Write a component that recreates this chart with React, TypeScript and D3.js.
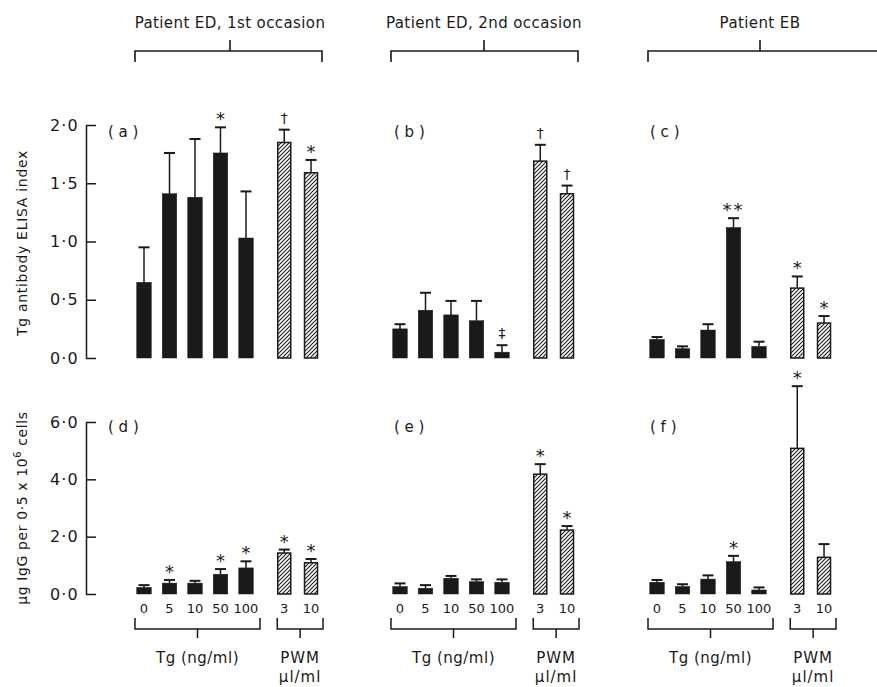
import React, { useEffect, useRef } from 'react';
import * as d3 from 'd3';

// dose labels under the bars
const tgDoses = ['0', '5', '10', '50', '100'];
const pwmDoses = ['3', '10'];
// slot of each bar along a panel (5 Tg doses, then a gap, then 2 PWM doses)
const slots = [0, 1, 2, 3, 4, 5.5, 6.55];

const headers = ['Patient ED, 1st occasion', 'Patient ED, 2nd occasion', 'Patient EB'];
const panelNames = ['a', 'b', 'c', 'd', 'e', 'f'];

// Tg antibody ELISA index (top row): mean, mean + error, marker
const elisaA = [0.65, 1.41, 1.38, 1.76, 1.03, 1.85, 1.59];
const elisaAErr = [0.95, 1.76, 1.88, 1.98, 1.43, 1.96, 1.70];
const elisaAMark = ['', '', '', '*', '', '†', '*'];

const elisaB = [0.25, 0.41, 0.37, 0.32, 0.05, 1.69, 1.41];
const elisaBErr = [0.29, 0.56, 0.49, 0.49, 0.11, 1.83, 1.48];
const elisaBMark = ['', '', '', '', '‡', '†', '†'];

const elisaC = [0.16, 0.08, 0.24, 1.12, 0.10, 0.60, 0.30];
const elisaCErr = [0.18, 0.10, 0.29, 1.20, 0.14, 0.70, 0.36];
const elisaCMark = ['', '', '', '**', '', '*', '*'];

// µg IgG per 0.5 x 10^6 cells (bottom row)
const iggD = [0.23, 0.38, 0.38, 0.69, 0.91, 1.43, 1.09];
const iggDErr = [0.31, 0.49, 0.46, 0.87, 1.14, 1.55, 1.22];
const iggDMark = ['', '*', '', '*', '*', '*', '*'];

const iggE = [0.26, 0.20, 0.55, 0.43, 0.41, 4.18, 2.23];
const iggEErr = [0.37, 0.31, 0.63, 0.51, 0.51, 4.53, 2.37];
const iggEMark = ['', '', '', '', '', '*', '*'];

const iggF = [0.41, 0.26, 0.52, 1.13, 0.14, 5.08, 1.28];
const iggFErr = [0.49, 0.34, 0.65, 1.33, 0.23, 7.25, 1.74];
const iggFMark = ['', '', '', '*', '', '*', ''];

const topTicks = [0, 0.5, 1, 1.5, 2];
const bottomTicks = [0, 2, 4, 6];

const font = "'DejaVu Sans', sans-serif";
const ink = '#1a1a1a';

function Figure() {
  const ref = useRef<SVGSVGElement>(null);

  function drawChart() {
    const svg = d3.select(ref.current);
    svg.selectAll('*').remove();

    svg.append('defs')
      .append('pattern')
      .attr('id', 'hatch')
      .attr('patternUnits', 'userSpaceOnUse')
      .attr('width', 4)
      .attr('height', 4)
      .append('path')
      .attr('d', 'M-1,1 l2,-2 M0,4 l4,-4 M3,5 l2,-2')
      .attr('stroke', ink)
      .attr('stroke-width', 1.1);

    const colX = [144, 400, 657];
    const labelX = [108, 394, 650];
    const headerX = [230, 484, 760];
    const step = 25.5;

    const rows = [
      { y: d3.scaleLinear().domain([0, 2]).range([358, 125]), ticks: topTicks, labelY: 137 },
      { y: d3.scaleLinear().domain([0, 6]).range([594, 422]), ticks: bottomTicks, labelY: 432 },
    ];

    const panels = [
      { vals: elisaA, errs: elisaAErr, marks: elisaAMark },
      { vals: elisaB, errs: elisaBErr, marks: elisaBMark },
      { vals: elisaC, errs: elisaCErr, marks: elisaCMark },
      { vals: iggD, errs: iggDErr, marks: iggDMark },
      { vals: iggE, errs: iggEErr, marks: iggEMark },
      { vals: iggF, errs: iggFErr, marks: iggFMark },
    ];

    // headers with brackets
    headers.forEach((h, c) => {
      const x = d3.scaleLinear().domain([0, 6.55]).range([colX[c], colX[c] + 6.55 * step]);
      const left = x(0) - 9;
      const right = c === 2 ? 880 : x(6.55) + 11;
      const g = svg.append('g');
      g.append('text')
        .attr('x', headerX[c])
        .attr('y', 28)
        .attr('text-anchor', 'middle')
        .attr('font-family', font)
        .attr('font-size', 15)
        .attr('letter-spacing', 0.4)
        .attr('fill', ink)
        .text(h);
      const d = c === 2
        ? `M${left},62 V51 H${right} M${headerX[c]},51 V40`
        : `M${left},62 V51 H${right} V62 M${headerX[c]},51 V40`;
      g.append('path').attr('d', d).attr('fill', 'none').attr('stroke', ink).attr('stroke-width', 1.6);
    });

    panels.forEach((p, i) => {
      const r = Math.floor(i / 3);
      const c = i % 3;
      const row = rows[r];
      const y = row.y;
      const x = d3.scaleLinear().domain([0, 6.55]).range([colX[c], colX[c] + 6.55 * step]);
      const g = svg.append('g');

      const bars = p.vals.map((v, k) => ({ v, e: p.errs[k], m: p.marks[k], s: slots[k], pwm: k > 4 }));

      // whiskers
      g.selectAll('line.err')
        .data(bars)
        .join('line')
        .attr('x1', d => x(d.s))
        .attr('x2', d => x(d.s))
        .attr('y1', d => y(d.v))
        .attr('y2', d => y(d.e))
        .attr('stroke', ink)
        .attr('stroke-width', 1.5);
      g.selectAll('line.cap')
        .data(bars)
        .join('line')
        .attr('x1', d => x(d.s) - 5.5)
        .attr('x2', d => x(d.s) + 5.5)
        .attr('y1', d => y(d.e))
        .attr('y2', d => y(d.e))
        .attr('stroke', ink)
        .attr('stroke-width', 2);

      g.selectAll('rect')
        .data(bars)
        .join('rect')
        .attr('x', d => x(d.s) - (d.pwm ? 6.5 : 7.25))
        .attr('width', d => (d.pwm ? 13 : 14.5))
        .attr('y', d => y(d.v))
        .attr('height', d => y(0) - y(d.v))
        .attr('fill', d => (d.pwm ? 'url(#hatch)' : ink))
        .attr('stroke', ink)
        .attr('stroke-width', d => (d.pwm ? 1.5 : 0.5));

      // significance markers
      g.selectAll('text.mark')
        .data(bars.filter(d => d.m))
        .join('text')
        .attr('x', d => x(d.s))
        .attr('y', d => (d.m.includes('*') ? y(d.e) - 2 : y(d.e) - 7))
        .attr('text-anchor', 'middle')
        .attr('font-family', font)
        .attr('font-size', d => (d.m.includes('*') ? 18 : 14))
        .attr('letter-spacing', d => (d.m === '**' ? 2 : 0))
        .attr('fill', ink)
        .text(d => d.m);

      g.append('text')
        .attr('x', labelX[c])
        .attr('y', row.labelY)
        .attr('font-family', font)
        .attr('font-size', 15)
        .attr('fill', ink)
        .attr('xml:space', 'preserve')
        .text(`( ${panelNames[i]} )`);

      if (c === 0) {
        const yAxis = d3.axisLeft(y)
          .tickValues(row.ticks)
          .tickSize(-10)
          .tickSizeOuter(0)
          .tickPadding(7)
          .tickFormat(v => d3.format('.1f')(v as number).replace('.', '·'));
        const ax = svg.append('g')
          .attr('transform', 'translate(86,0)')
          .call(yAxis);
        ax.selectAll('path, line').attr('stroke', ink).attr('stroke-width', 1.5);
        ax.selectAll('text')
          .attr('font-family', font)
          .attr('font-size', 16)
          .attr('letter-spacing', 1.2)
          .attr('fill', ink);
      }

      if (r === 1) {
        const doses = [...tgDoses, ...pwmDoses];
        g.selectAll('text.dose')
          .data(bars)
          .join('text')
          .attr('x', d => x(d.s))
          .attr('y', 613)
          .attr('text-anchor', 'middle')
          .attr('font-family', font)
          .attr('font-size', 13)
          .attr('fill', ink)
          .text((d, k) => doses[k]);

        const tgL = x(0) - 9, tgR = x(4) + 14;
        const pwL = x(5.5) - 7, pwR = x(6.55) + 12;
        const bracket = (l: number, rr: number) => `M${l},618 V629 H${rr} V618 M${(l + rr) / 2},629 V638`;
        g.append('path').attr('d', bracket(tgL, tgR) + ' ' + bracket(pwL, pwR))
          .attr('fill', 'none').attr('stroke', ink).attr('stroke-width', 1.5);

        g.append('text')
          .attr('x', (tgL + tgR) / 2)
          .attr('y', 663)
          .attr('text-anchor', 'middle')
          .attr('font-family', font)
          .attr('font-size', 15)
          .attr('letter-spacing', 0.5)
          .attr('fill', ink)
          .text('Tg (ng/ml)');
        g.append('text')
          .attr('x', (pwL + pwR) / 2)
          .attr('y', 663)
          .attr('text-anchor', 'middle')
          .attr('font-family', font)
          .attr('font-size', 15)
          .attr('letter-spacing', 1)
          .attr('fill', ink)
          .text('PWM');
        g.append('text')
          .attr('x', (pwL + pwR) / 2)
          .attr('y', 682)
          .attr('text-anchor', 'middle')
          .attr('font-family', font)
          .attr('font-size', 15)
          .attr('letter-spacing', 1)
          .attr('fill', ink)
          .text('µl/ml');
      }
    });

    // y axis titles
    svg.append('text')
      .attr('transform', 'translate(27,243) rotate(-90)')
      .attr('text-anchor', 'middle')
      .attr('font-family', font)
      .attr('font-size', 14)
      .attr('letter-spacing', 0.7)
      .attr('fill', ink)
      .text('Tg antibody ELISA index');

    const t2 = svg.append('text')
      .attr('transform', 'translate(27,508) rotate(-90)')
      .attr('text-anchor', 'middle')
      .attr('font-family', font)
      .attr('font-size', 14)
      .attr('letter-spacing', 0.6)
      .attr('fill', ink);
    t2.append('tspan').text('µg IgG per 0·5 x 10');
    t2.append('tspan').attr('dy', -6).attr('font-size', 10).text('6');
    t2.append('tspan').attr('dy', 6).text(' cells');
  }

  useEffect(() => {
    drawChart();
  }, []);

  return (
    <svg ref={ref} width={877} height={687}
      style={{ position: 'absolute', left: 0, top: 0, background: '#fff' }} />
  );
}

export default function App() {
  return <Figure />;
}
